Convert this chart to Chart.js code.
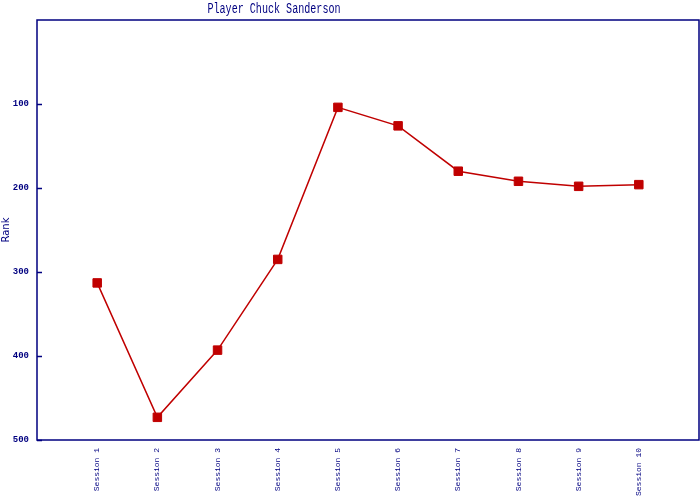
<!DOCTYPE html>
<html>
<head>
<meta charset="utf-8">
<script src="https://cdn.jsdelivr.net/npm/chart.js@4"></script>
<style>
  html, body { margin: 0; padding: 0; background: #fff; }
  #wrap { width: 700px; height: 500px; }
</style>
</head>
<body>
<div id="wrap"><canvas id="rankChart"></canvas></div>
<script>
// --- data ---
const sessions = ['Session 1', 'Session 2', 'Session 3', 'Session 4', 'Session 5',
                  'Session 6', 'Session 7', 'Session 8', 'Session 9', 'Session 10'];
const ranks = [313, 473, 393, 285, 104, 126, 180, 192, 198, 196];
const rankTicks = [100, 200, 300, 400, 500];
const chartTitle = 'Player Chuck Sanderson';

const navy = '#000080';
const lineRed = '#c00000';
const monoFont = "'Liberation Mono', 'DejaVu Sans Mono', monospace";

// frame around the plot, inward y ticks, and the (narrow, off-centre) title
const frameBox = {
  id: 'frameBox',
  afterDraw(chart) {
    const { ctx, chartArea: a } = chart;
    const y = chart.scales.y;
    ctx.save();
    ctx.strokeStyle = navy;
    ctx.lineWidth = 1.5;
    ctx.strokeRect(a.left, a.top, a.right - a.left, a.bottom - a.top);
    ctx.beginPath();
    y.ticks.forEach(t => {
      const py = Math.round(y.getPixelForValue(t.value)) + 0.5;
      ctx.moveTo(a.left, py);
      ctx.lineTo(a.left + 5, py);
    });
    ctx.stroke();

    // title
    ctx.fillStyle = navy;
    ctx.font = '14px ' + monoFont;
    ctx.textAlign = 'center';
    ctx.textBaseline = 'alphabetic';
    ctx.translate(274, 13);
    ctx.scale(0.72, 1);
    ctx.fillText(chartTitle, 0, 0);
    ctx.restore();
  }
};

new Chart(document.getElementById('rankChart'), {
  type: 'line',
  data: {
    datasets: [{
      label: 'Rank',
      data: ranks.map((r, i) => ({ x: i + 1, y: r })),
      borderColor: lineRed,
      borderWidth: 1.5,
      backgroundColor: lineRed,
      pointStyle: 'rect',
      pointRadius: 6,
      pointBorderWidth: 1,
      pointBorderColor: lineRed,
      tension: 0,
      fill: false
    }]
  },
  options: {
    responsive: true,
    maintainAspectRatio: false,
    animation: false,
    layout: { autoPadding: false, padding: { left: 0, right: 1, top: 20, bottom: 0 } },
    plugins: {
      legend: { display: false },
      tooltip: { enabled: false },
      title: { display: false }
    },
    scales: {
      x: {
        type: 'linear',
        min: 0,
        max: 11,
        afterFit: (s) => { s.height = 60; s.paddingLeft = 0; s.paddingRight = 0; },
        afterBuildTicks: (s) => { s.ticks = sessions.map((_, i) => ({ value: i + 1 })); },
        grid: { display: false },
        border: { display: false },
        ticks: {
          color: navy,
          autoSkip: false,
          minRotation: 90,
          maxRotation: 90,
          padding: 0,
          font: { family: monoFont, size: 8 },
          callback: (v) => sessions[v - 1] || ''
        }
      },
      y: {
        reverse: true,
        min: 0,
        max: 500,
        afterFit: (s) => { s.width = 37; s.paddingTop = 0; s.paddingBottom = 0; },
        afterBuildTicks: (s) => { s.ticks = rankTicks.map(v => ({ value: v })); },
        grid: { display: false },
        border: { display: false },
        title: {
          display: true,
          text: 'Rank',
          color: navy,
          font: { family: "'DejaVu Sans', sans-serif", size: 10 },
          padding: { top: 0, bottom: 0 }
        },
        ticks: {
          color: navy,
          padding: 0,
          font: { family: monoFont, size: 9, weight: 'bold' }
        }
      }
    }
  },
  plugins: [frameBox]
});
</script>
</body>
</html>
